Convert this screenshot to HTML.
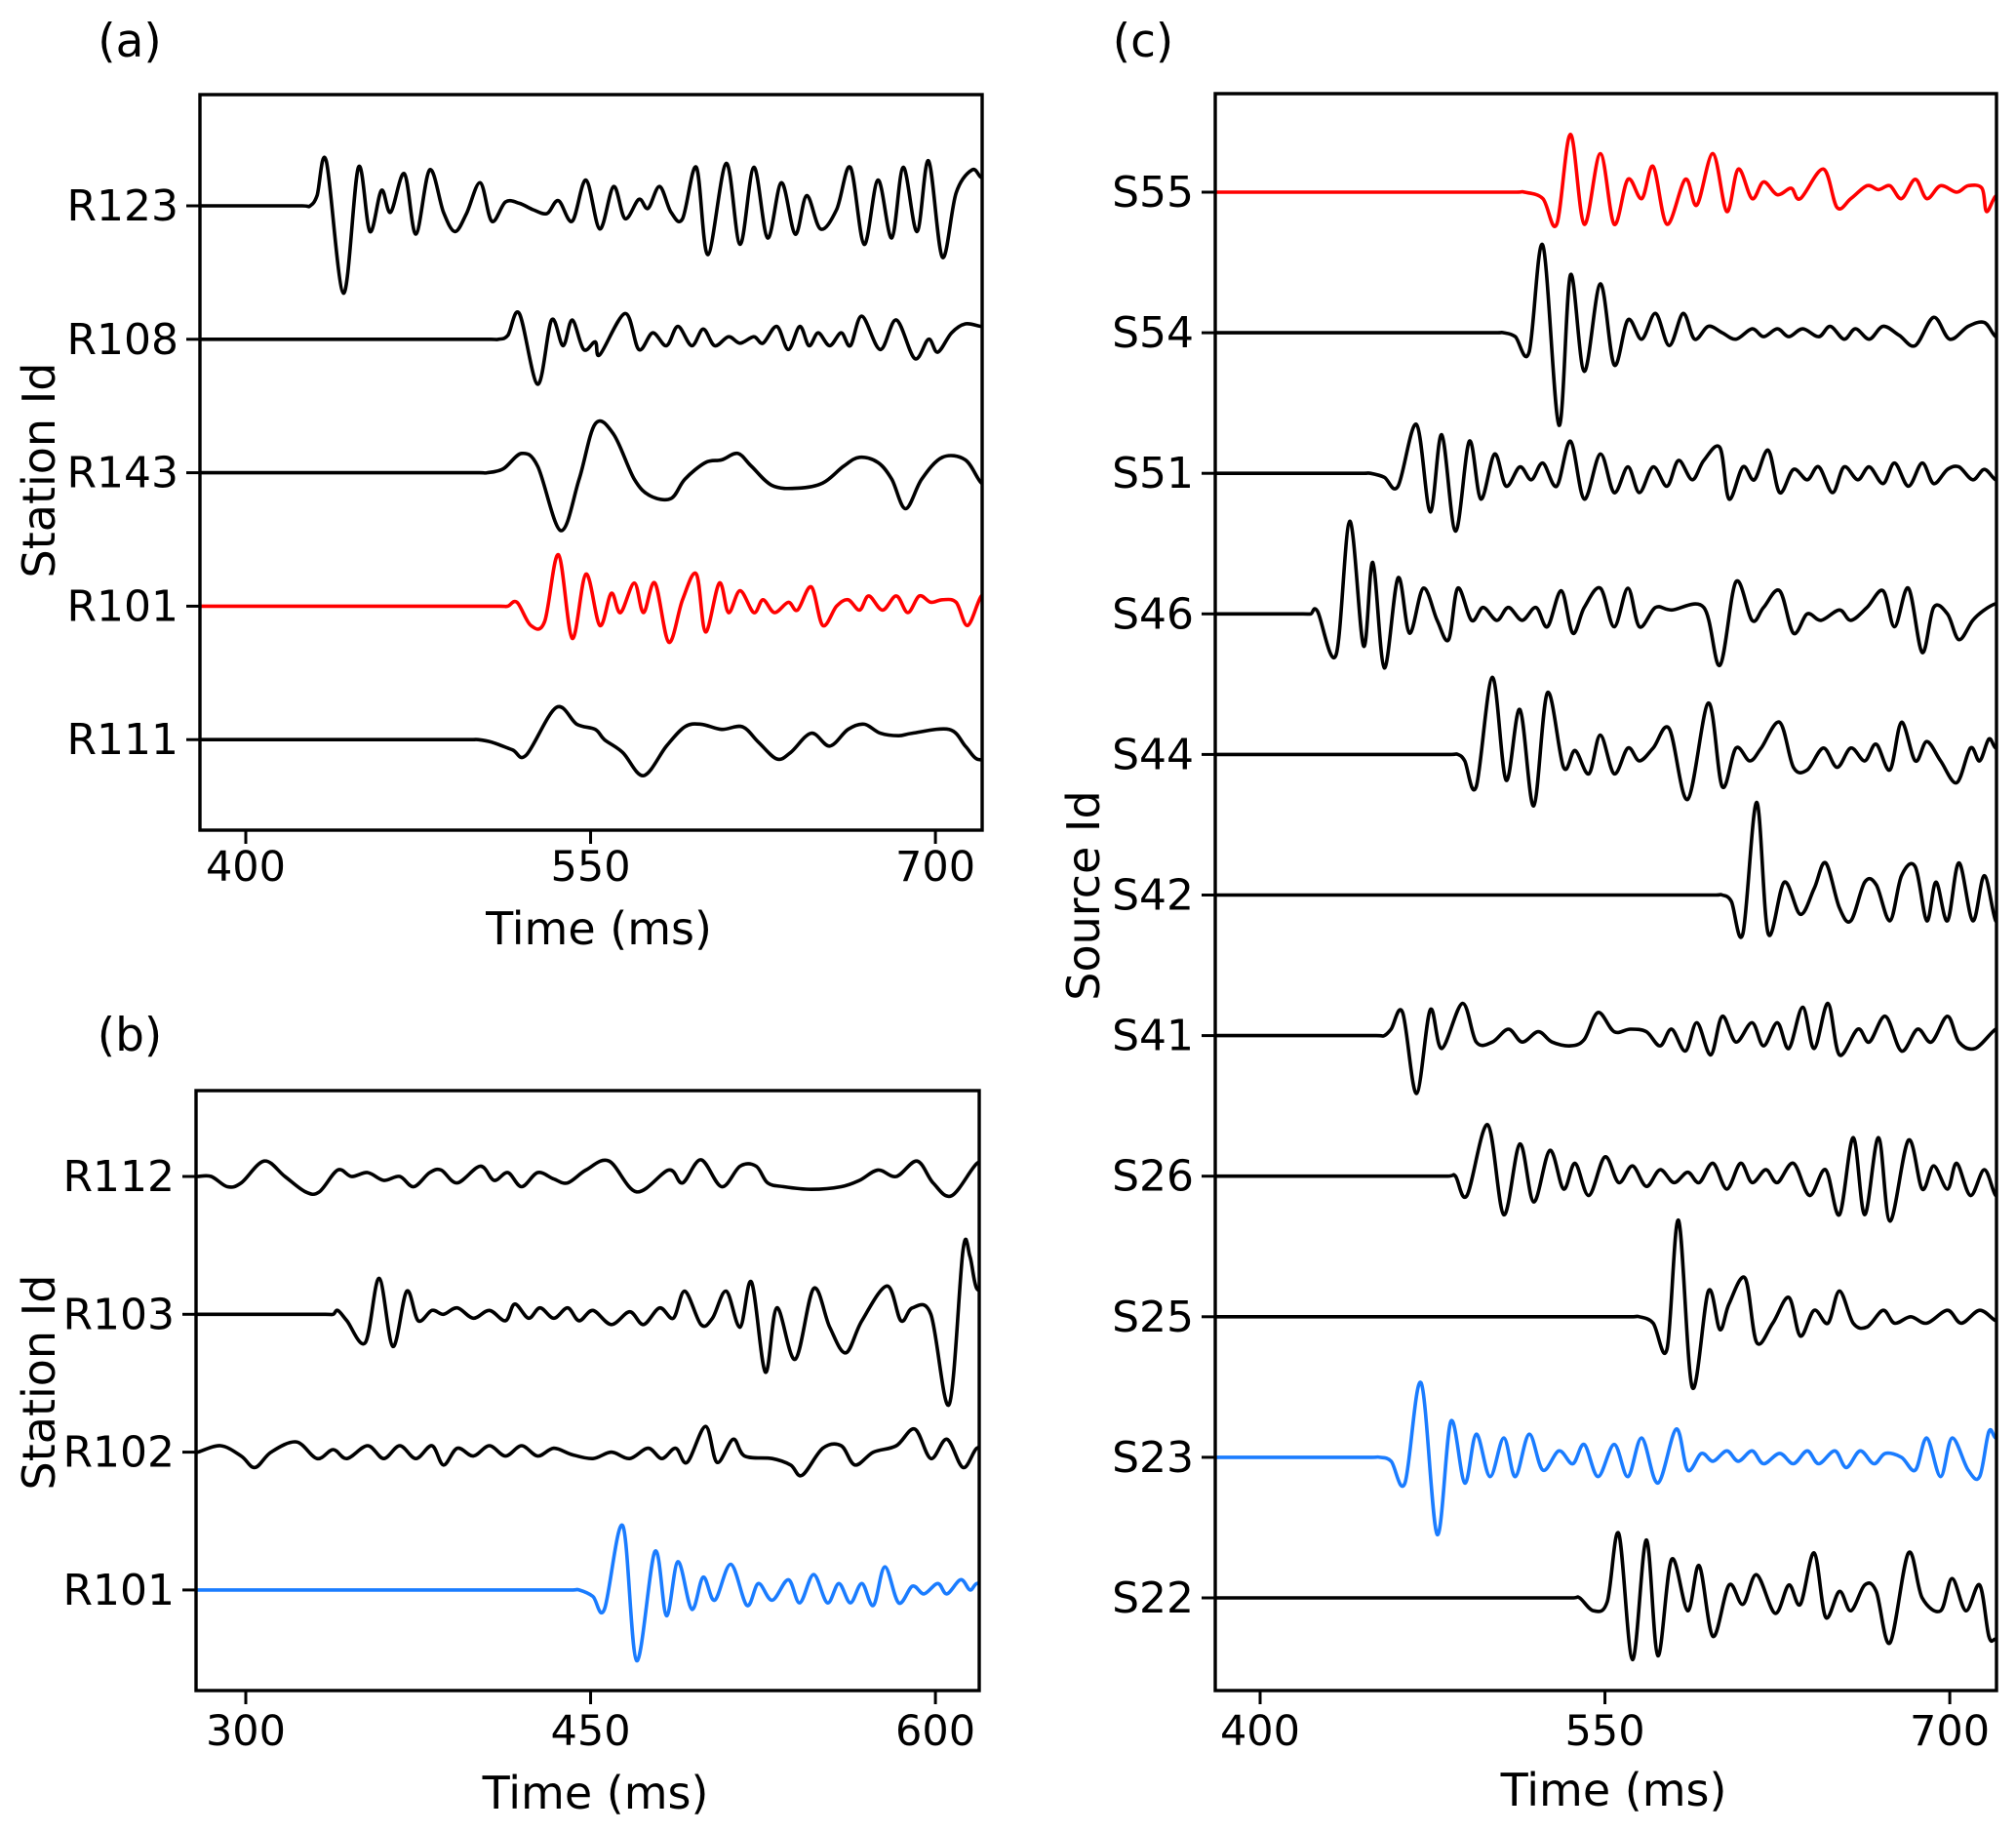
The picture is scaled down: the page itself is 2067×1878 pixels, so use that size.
<!DOCTYPE html>
<html><head><meta charset="utf-8"><style>
html,body{margin:0;padding:0;background:#fff}
svg{display:block}
text{font-family:"DejaVu Sans","Liberation Sans",sans-serif;fill:#000}
</style></head><body>
<svg id="fig" width="2067" height="1878" viewBox="0 0 2067 1878" xmlns="http://www.w3.org/2000/svg"></svg>
<script>
// ---------- data (time ms, amplitude px-in-display units, positive up) ----------
const panelA_labels = ["R123","R108","R143","R101","R111"];
const panelA_colors = ["#000","#000","#000","#f00","#000"];
const R123 = [[424,0],[427,8],[431,35],[438.5,-68],[445,30],[450,-20],[455,12],[459,-5],[465,25],[470,-22],[476,28],[482,-5],[487,-20],[492,-6],[498,18],[503,-12],[509,3],[515,2],[521,-3],[527,-6],[532,4],[538,-12],[544,20],[550,-18],[556,15],[561,-10],[567,5],[571,-2],[576,15],[581,-5],[586,-10],[592,30],[597,-38],[605,33],[611,-30],[617,30],[623,-25],[629,18],[635,-22],[640,8],[646,-18],[653,-3],[659,30],[665,-30],[671,20],[677,-25],[682,30],[688,-20],[693,35],[699,-40],[705,10],[712,28],[716,22]];
const R108 = [[506,0],[510,3],[515,20],[523,-35],[529,15],[534,-5],[538,15],[543,-8],[548,-2],[550,-12],[561,20],[567,-8],[573,5],[579,-5],[584,10],[590,-5],[595,8],[600,-5],[606,2],[611,-3],[617,2],[621,-3],[627,10],[632,-8],[637,10],[641,-5],[645,5],[650,-5],[655,5],[659,-5],[664,18],[672,-8],[679,15],[687,-15],[693,0],[697,-10],[703,5],[709,12],[716,10]];
const R143 = [[501,0],[508,3],[516,15],[523,5],[533,-45],[541,-5],[548,38],[556,30],[565,-5],[572,-18],[581,-20],[587,-5],[596,8],[603,10],[610,15],[616,5],[625,-10],[636,-12],[647,-8],[656,5],[663,12],[671,8],[677,-5],[683,-28],[690,-5],[699,12],[709,10],[716,-8]];
const R101a = [[510,0],[514,3],[520,-15],[526,-12],[532,40],[538,-25],[544,25],[550,-15],[555,10],[559,-5],[565,18],[569,-5],[574,18],[580,-28],[586,5],[592,25],[596,-20],[602,18],[606,-5],[611,12],[617,-5],[621,5],[626,-5],[632,3],[636,-3],[642,15],[647,-15],[653,0],[658,5],[663,-3],[667,8],[673,-3],[679,8],[684,-5],[689,8],[694,3],[699,5],[705,3],[710,-15],[716,8]];
const R111 = [[497,0],[503,-2],[512,-8],[518,-12],[531,25],[540,12],[548,8],[552,0],[560,-10],[569,-28],[579,-5],[587,10],[594,12],[603,8],[612,10],[619,-2],[627,-15],[633,-10],[642,5],[650,-5],[658,8],[665,12],[672,5],[680,3],[686,5],[702,8],[709,-5],[714,-15]];
const panelA_series = [R123,R108,R143,R101a,R111];

const panelB_labels = ["R112","R103","R102","R101"];
const panelB_colors = ["#000","#000","#000","#1a7cff"];
const R112 = [[275,0],[281,0],[288,-8],[294,-5],[304,12],[313,0],[322,-12],[328,-12],[336,5],[342,0],[349,3],[356,-3],[363,0],[369,-8],[376,3],[381,5],[388,-5],[398,8],[404,-3],[410,3],[416,-8],[423,3],[430,-2],[436,-5],[444,5],[454,12],[466,-12],[480,5],[486,-5],[494,13],[503,-8],[511,8],[518,8],[523,-5],[530,-8],[542,-10],[555,-8],[563,-3],[571,5],[579,0],[588,12],[595,-5],[603,-15],[614,10]];
const R103 = [[334,0],[336,3],[340,-5],[348,-22],[354,28],[360,-25],[366,18],[371,-5],[377,3],[382,0],[388,5],[395,-3],[402,3],[409,-5],[413,8],[419,-3],[424,5],[430,-3],[436,5],[441,-5],[447,3],[455,-8],[463,2],[469,-8],[476,5],[482,-3],[487,18],[494,-8],[499,-3],[505,18],[511,-10],[516,25],[522,-45],[527,5],[535,-35],[543,20],[550,-10],[557,-30],[564,-5],[575,22],[581,-5],[586,5],[594,0],[602,-70],[608,50],[611,45],[614,20]];
const R102 = [[275,0],[285,5],[294,-3],[300,-12],[307,0],[318,8],[327,-5],[334,2],[340,-5],[349,5],[356,-5],[363,5],[370,-5],[377,5],[382,-10],[388,3],[395,-3],[402,5],[409,-3],[416,5],[423,-3],[430,3],[438,-2],[447,-5],[455,0],[463,-5],[471,3],[477,-5],[483,3],[488,-8],[496,20],[501,-8],[508,10],[513,-3],[525,-5],[533,-10],[538,-18],[547,3],[555,5],[561,-10],[569,0],[579,5],[587,18],[594,-5],[601,10],[608,-12],[614,3]];
const R101b = [[441,0],[447,-5],[452,-15],[460,50],[466,-55],[474,30],[479,-20],[484,22],[490,-15],[495,10],[500,-8],[507,20],[514,-12],[519,5],[525,-8],[532,8],[537,-10],[543,12],[549,-10],[554,5],[559,-10],[564,5],[569,-12],[574,18],[580,-10],[586,3],[591,-3],[597,5],[601,-3],[607,8],[611,0],[614,5]];
const panelB_series = [R112,R103,R102,R101b];

const panelC_labels = ["S55","S54","S51","S46","S44","S42","S41","S26","S25","S23","S22"];
const panelC_colors = ["#f00","#000","#000","#000","#000","#000","#000","#000","#000","#1a7cff","#000"];
const S55 = [[511,0],[519,-5],[525,-25],[531,45],[537,-25],[544,30],[550,-25],[556,10],[562,-5],[567,20],[573,-25],[581,10],[586,-10],[593,30],[599,-15],[604,18],[610,-5],[615,8],[621,-2],[627,3],[631,-5],[641,18],[647,-12],[653,-5],[660,5],[665,2],[670,5],[675,-5],[681,10],[686,-5],[692,5],[699,0],[704,5],[710,3],[712,-15],[716,-3]];
const S54 = [[502,0],[507,-3],[513,-15],[519,68],[526,-72],[531,45],[537,-30],[544,38],[550,-25],[556,10],[562,-5],[568,15],[574,-10],[580,15],[585,-5],[591,5],[597,0],[603,-5],[610,3],[615,-3],[621,3],[626,-3],[632,3],[639,-3],[644,5],[650,-5],[655,3],[661,-5],[667,5],[674,-2],[681,-10],[689,12],[696,-5],[704,5],[711,8],[716,-3]];
const S51 = [[444,0],[450,-3],[456,-10],[464,38],[470,-30],[475,30],[481,-45],[487,25],[492,-20],[498,15],[503,-10],[509,5],[514,-5],[519,8],[525,-10],[531,25],[537,-20],[544,15],[550,-15],[556,5],[561,-15],[567,5],[573,-10],[578,10],[584,-5],[589,10],[596,20],[600,-20],[606,5],[611,-5],[617,18],[622,-15],[628,3],[634,-5],[639,5],[645,-15],[650,5],[656,-5],[661,5],[667,-8],[672,8],[678,-10],[684,8],[689,-8],[695,3],[700,5],[706,-5],[711,3],[716,-5]];
const S46 = [[418,0],[421,2],[429,-32],[435,72],[441,-25],[445,40],[450,-42],[456,28],[461,-15],[467,20],[473,-5],[478,-20],[482,20],[488,-5],[493,5],[499,-5],[504,5],[510,-5],[516,5],[521,-10],[527,18],[532,-15],[537,5],[544,20],[550,-10],[556,20],[561,-10],[568,5],[575,3],[589,5],[596,-40],[603,25],[610,-5],[615,5],[622,18],[628,-15],[634,0],[640,-5],[648,3],[653,-5],[660,5],[667,18],[672,-10],[678,20],[684,-30],[689,5],[695,0],[700,-20],[706,-5],[711,3],[716,8]];
const S44 = [[482,0],[485,-5],[490,-25],[497,60],[503,-20],[509,35],[515,-40],[521,48],[528,-10],[533,3],[539,-15],[544,15],[550,-15],[556,5],[561,-5],[567,5],[574,20],[582,-35],[591,40],[597,-25],[603,5],[609,-5],[614,5],[622,25],[628,-10],[634,-12],[641,5],[647,-10],[653,5],[659,-5],[664,8],[670,-12],[675,25],[681,-5],[686,10],[692,-5],[699,-22],[705,5],[709,-5],[713,12],[716,5]];
const S42 = [[597,0],[601,-5],[606,-30],[612,72],[617,-30],[624,10],[631,-15],[637,5],[642,25],[648,-10],[653,-20],[659,10],[664,8],[670,-20],[675,15],[681,22],[686,-20],[690,10],[695,-20],[700,25],[706,-20],[711,15],[716,-20]];
const S41 = [[450,0],[453,5],[458,18],[464,-45],[470,20],[475,-10],[484,25],[490,-5],[497,-5],[504,5],[510,-5],[517,3],[523,-5],[531,-8],[537,-3],[543,18],[550,3],[557,5],[564,3],[570,-8],[575,5],[581,-12],[586,10],[592,-15],[597,15],[603,-5],[610,10],[615,-8],[621,10],[626,-10],[632,22],[637,-10],[643,25],[648,-15],[656,5],[661,-5],[668,15],[675,-12],[682,5],[688,-5],[695,15],[700,-5],[707,-10],[716,5]];
const S26 = [[481,0],[486,-15],[495,40],[502,-30],[509,25],[515,-20],[522,20],[528,-10],[533,10],[539,-15],[546,15],[552,-5],[558,8],[564,-8],[570,5],[576,-5],[582,3],[587,-5],[593,10],[599,-10],[605,10],[610,-5],[616,5],[621,-5],[628,10],[635,-15],[642,5],[648,-30],[654,30],[659,-30],[665,30],[670,-35],[678,28],[684,-10],[689,8],[695,-10],[699,10],[705,-15],[711,5],[716,-15]];
const S25 = [[561,0],[567,-5],[573,-25],[578,75],[584,-55],[591,20],[596,-10],[600,10],[607,30],[612,-20],[619,-5],[626,15],[631,-15],[637,5],[643,-5],[648,20],[654,-5],[660,-8],[667,5],[672,-5],[679,0],[686,-5],[695,5],[701,-5],[709,5],[716,-3]];
const S23 = [[448,0],[453,-3],[459,-20],[466,58],[473,-60],[479,28],[485,-20],[490,18],[496,-15],[502,15],[507,-15],[513,18],[519,-10],[526,5],[532,-5],[537,10],[543,-15],[550,10],[556,-15],[562,15],[569,-20],[577,22],[582,-10],[588,3],[593,-3],[599,5],[604,-3],[610,5],[615,-5],[622,3],[628,-5],[634,5],[639,-5],[646,5],[651,-8],[657,5],[663,-5],[668,3],[675,0],[681,-10],[686,15],[692,-15],[697,15],[704,-10],[709,-15],[713,20],[716,15]];
const S22 = [[535,0],[541,-10],[547,-3],[552,50],[558,-48],[564,45],[569,-45],[575,30],[582,-10],[587,25],[593,-30],[600,10],[606,-5],[612,18],[620,-12],[626,10],[631,-5],[637,35],[642,-15],[648,5],[653,-10],[659,10],[664,5],[670,-35],[678,35],[684,0],[692,-10],[697,15],[703,-10],[709,10],[713,-30],[716,-32]];
const panelC_series = [S55,S54,S51,S46,S44,S42,S41,S26,S25,S23,S22];

const ticksAB_a = [400,550,700];
const ticksAB_b = [300,450,600];
const ticksC = [400,550,700];

// ---------- layout ----------
const NS = "http://www.w3.org/2000/svg";
const svg = document.getElementById('fig');
const AMP = 1.318, TSHIFT = 4, PXMS = 2.357;
function mk(tag, attrs, parent){ const e=document.createElementNS(NS,tag); for(const k in attrs) e.setAttribute(k,attrs[k]); (parent||svg).appendChild(e); return e; }

const panels = [
  {id:"a", box:[205,97,1007,851], x0:252, t0:400, labels:panelA_labels, colors:panelA_colors, series:panelA_series, y0:211, dy:136.8, ticks:ticksAB_a, tickY:888, titleY:952, ylab:"Station Id", ylabX:40, yc:482, tag:"(a)", tagX:133, tagY:58},
  {id:"b", box:[201,1118,1004,1733], x0:252, t0:300, labels:panelB_labels, colors:panelB_colors, series:panelB_series, y0:1206, dy:141.3, ticks:ticksAB_b, tickY:1774, titleY:1838, ylab:"Station Id", ylabX:40, yc:1417, tag:"(b)", tagX:133, tagY:1077},
  {id:"c", box:[1246,96,2047,1733], x0:1292, t0:400, labels:panelC_labels, colors:panelC_colors, series:panelC_series, y0:197, dy:144.1, ticks:ticksC, tickY:1774, titleY:1835, ylab:"Source Id", ylabX:1111, yc:918, tag:"(c)", tagX:1172, tagY:58}
];

function pathFrom(pts){
  let d = "M"+pts[0][0].toFixed(1)+","+pts[0][1].toFixed(1);
  for(let i=0;i<pts.length-1;i++){
    const p0=pts[Math.max(0,i-1)], p1=pts[i], p2=pts[i+1], p3=pts[Math.min(pts.length-1,i+2)];
    let c1=[p1[0]+(p2[0]-p0[0])/6, p1[1]+(p2[1]-p0[1])/6];
    let c2=[p2[0]-(p3[0]-p1[0])/6, p2[1]-(p3[1]-p1[1])/6];
    c1[0]=Math.min(Math.max(c1[0],p1[0]),p2[0]);
    c2[0]=Math.min(Math.max(c2[0],p1[0]),p2[0]);
    d+=" C"+c1[0].toFixed(1)+","+c1[1].toFixed(1)+" "+c2[0].toFixed(1)+","+c2[1].toFixed(1)+" "+p2[0].toFixed(1)+","+p2[1].toFixed(1);
  }
  return d;
}

panels.forEach(p=>{
  const [L,T,R,B]=p.box;
  const xs = t => p.x0 + (t - p.t0)*PXMS;
  const ys = (i,a) => p.y0 + i*p.dy - a*AMP;
  const g = mk('g',{});
  
  
  const cp = mk('clipPath',{id:'clip-'+p.id},g);
  mk('rect',{x:L,y:T,width:R-L,height:B-T},cp);
  const tg = mk('g',{'clip-path':'url(#clip-'+p.id+')'},g);
  p.series.forEach((s,i)=>{
    const first = s[0][0]+TSHIFT;
    const pts=[[L-5, ys(i,0)]];
    if (xs(first) - (L-5) > 20) pts.push([xs(first)-8, ys(i,0)]);
    s.forEach(k=>pts.push([xs(k[0]+TSHIFT), ys(i,k[1])]));
    const last=s[s.length-1];
    pts.push([R+10, ys(i,last[1])]);
    const path = mk('path',{d:pathFrom(pts),fill:'none',stroke:p.colors[i],'stroke-width':3.6,'stroke-linejoin':'round'},tg);
    
    
    const tk = mk('line',{x1:L-14,x2:L,y1:ys(i,0),y2:ys(i,0),stroke:'#000','stroke-width':3},g);
    
    
    const tl = mk('text',{x:L-22,y:ys(i,0)+15,'font-size':44,'text-anchor':'end'},g);
    tl.textContent=p.labels[i];
    
    
  });
  const fr = mk('rect',{x:L,y:T,width:R-L,height:B-T,fill:'none',stroke:'#000','stroke-width':3.4},g);
  
  
  p.ticks.forEach(t=>{
    const x=xs(t);
    const l=mk('line',{x1:x,x2:x,y1:B,y2:B+14,stroke:'#000','stroke-width':3},g);
    
    
    const tx=mk('text',{x:x,y:p.tickY+15,'font-size':43,'text-anchor':'middle'},g);
    tx.textContent=t;
    
    
  });
  const xt=mk('text',{x:(L+R)/2+8,y:p.titleY+16,'font-size':46,'text-anchor':'middle'},g);
  xt.textContent="Time (ms)";
  
  
  const yt=mk('text',{x:0,y:0,'font-size':46,'text-anchor':'middle',transform:'translate('+(p.ylabX+16)+','+p.yc+') rotate(-90)'},g);
  yt.textContent=p.ylab;
  
  
  const pt=mk('text',{x:p.tagX,y:p.tagY,'font-size':47,'text-anchor':'middle'},g);
  pt.textContent=p.tag;
  
  
});
</script>
</body></html>
